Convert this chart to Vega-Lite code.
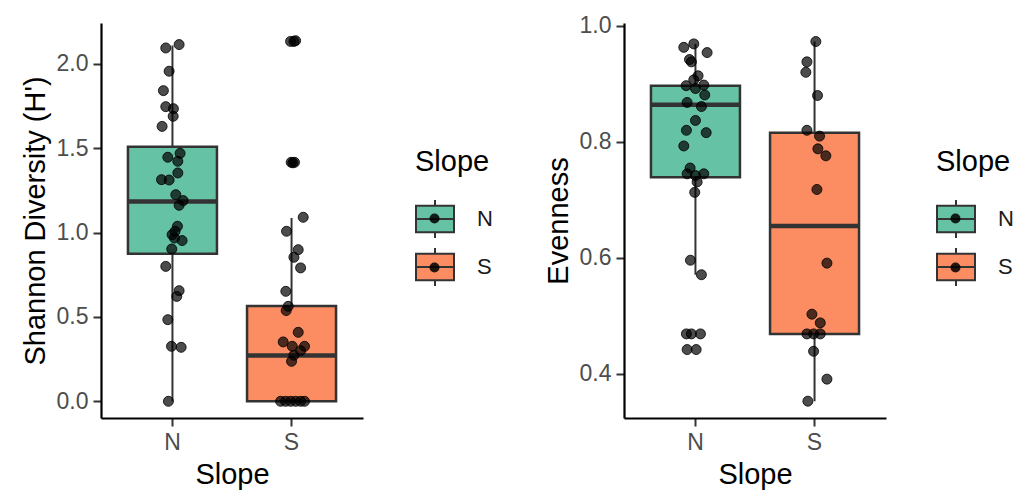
{
  "$schema": "https://vega.github.io/schema/vega-lite/v6.json",
  "padding": {"left": 21, "top": 14, "right": 5, "bottom": 5},
  "spacing": 51,
  "datasets": {
    "shBox": [
      {"slope": "N", "lower": 0.0, "q1": 0.875, "median": 1.185, "q3": 1.51, "upper": 2.11},
      {"slope": "S", "lower": 0.0, "q1": 0.0, "median": 0.272, "q3": 0.565, "upper": 1.087}
    ],
    "evBox": [
      {"slope": "N", "lower": 0.571, "q1": 0.739, "median": 0.864, "q3": 0.897, "upper": 0.969},
      {"slope": "S", "lower": 0.353, "q1": 0.469, "median": 0.655, "q3": 0.816, "upper": 0.973}
    ],
    "shPts": [
      {"slope": "N", "jitter": -0.056, "value": 2.095},
      {"slope": "N", "jitter": 0.056, "value": 2.115},
      {"slope": "N", "jitter": -0.028, "value": 1.957},
      {"slope": "N", "jitter": -0.076, "value": 1.842},
      {"slope": "N", "jitter": -0.056, "value": 1.747},
      {"slope": "N", "jitter": 0.008, "value": 1.735},
      {"slope": "N", "jitter": 0.006, "value": 1.69},
      {"slope": "N", "jitter": -0.087, "value": 1.63},
      {"slope": "N", "jitter": 0.064, "value": 1.47},
      {"slope": "N", "jitter": -0.039, "value": 1.447},
      {"slope": "N", "jitter": 0.045, "value": 1.423},
      {"slope": "N", "jitter": 0.045, "value": 1.354},
      {"slope": "N", "jitter": -0.092, "value": 1.314},
      {"slope": "N", "jitter": -0.028, "value": 1.312},
      {"slope": "N", "jitter": 0.028, "value": 1.225},
      {"slope": "N", "jitter": 0.09, "value": 1.19},
      {"slope": "N", "jitter": 0.056, "value": 1.162},
      {"slope": "N", "jitter": 0.042, "value": 1.038},
      {"slope": "N", "jitter": 0.022, "value": 1.008},
      {"slope": "N", "jitter": -0.003, "value": 0.988},
      {"slope": "N", "jitter": 0.017, "value": 0.968},
      {"slope": "N", "jitter": 0.081, "value": 0.953},
      {"slope": "N", "jitter": -0.006, "value": 0.903},
      {"slope": "N", "jitter": -0.056, "value": 0.8},
      {"slope": "N", "jitter": 0.056, "value": 0.656},
      {"slope": "N", "jitter": 0.036, "value": 0.622},
      {"slope": "N", "jitter": -0.039, "value": 0.484},
      {"slope": "N", "jitter": -0.008, "value": 0.326},
      {"slope": "N", "jitter": 0.073, "value": 0.32},
      {"slope": "N", "jitter": -0.034, "value": 0.0},
      {"slope": "S", "jitter": -0.008, "value": 2.134},
      {"slope": "S", "jitter": 0.02, "value": 2.134},
      {"slope": "S", "jitter": 0.034, "value": 2.138},
      {"slope": "S", "jitter": -0.003, "value": 1.417},
      {"slope": "S", "jitter": 0.025, "value": 1.417},
      {"slope": "S", "jitter": 0.011, "value": 1.414},
      {"slope": "S", "jitter": 0.098, "value": 1.091},
      {"slope": "S", "jitter": -0.042, "value": 1.008},
      {"slope": "S", "jitter": 0.056, "value": 0.899},
      {"slope": "S", "jitter": 0.02, "value": 0.854},
      {"slope": "S", "jitter": 0.076, "value": 0.791},
      {"slope": "S", "jitter": -0.048, "value": 0.652},
      {"slope": "S", "jitter": -0.028, "value": 0.563},
      {"slope": "S", "jitter": -0.045, "value": 0.538},
      {"slope": "S", "jitter": 0.056, "value": 0.409},
      {"slope": "S", "jitter": -0.07, "value": 0.352},
      {"slope": "S", "jitter": 0.006, "value": 0.326},
      {"slope": "S", "jitter": 0.109, "value": 0.326},
      {"slope": "S", "jitter": 0.076, "value": 0.3},
      {"slope": "S", "jitter": 0.02, "value": 0.273},
      {"slope": "S", "jitter": 0.0, "value": 0.237},
      {"slope": "S", "jitter": -0.092, "value": 0.0},
      {"slope": "S", "jitter": -0.05, "value": 0.0},
      {"slope": "S", "jitter": -0.008, "value": 0.0},
      {"slope": "S", "jitter": 0.034, "value": 0.0},
      {"slope": "S", "jitter": 0.076, "value": 0.0},
      {"slope": "S", "jitter": 0.109, "value": 0.0}
    ],
    "evPts": [
      {"slope": "N", "jitter": -0.098, "value": 0.963},
      {"slope": "N", "jitter": -0.014, "value": 0.969},
      {"slope": "N", "jitter": 0.098, "value": 0.954},
      {"slope": "N", "jitter": -0.05, "value": 0.942},
      {"slope": "N", "jitter": -0.034, "value": 0.938},
      {"slope": "N", "jitter": 0.022, "value": 0.914},
      {"slope": "N", "jitter": -0.014, "value": 0.907},
      {"slope": "N", "jitter": -0.078, "value": 0.897},
      {"slope": "N", "jitter": 0.07, "value": 0.898},
      {"slope": "N", "jitter": 0.0, "value": 0.892},
      {"slope": "N", "jitter": 0.078, "value": 0.881},
      {"slope": "N", "jitter": -0.07, "value": 0.868},
      {"slope": "N", "jitter": 0.05, "value": 0.861},
      {"slope": "N", "jitter": 0.0, "value": 0.837},
      {"slope": "N", "jitter": -0.076, "value": 0.82},
      {"slope": "N", "jitter": 0.09, "value": 0.816},
      {"slope": "N", "jitter": -0.098, "value": 0.793},
      {"slope": "N", "jitter": -0.045, "value": 0.755},
      {"slope": "N", "jitter": -0.07, "value": 0.745},
      {"slope": "N", "jitter": 0.07, "value": 0.745},
      {"slope": "N", "jitter": 0.0, "value": 0.742},
      {"slope": "N", "jitter": 0.014, "value": 0.731},
      {"slope": "N", "jitter": -0.006, "value": 0.713},
      {"slope": "N", "jitter": -0.042, "value": 0.596},
      {"slope": "N", "jitter": 0.05, "value": 0.571},
      {"slope": "N", "jitter": -0.076, "value": 0.469},
      {"slope": "N", "jitter": -0.034, "value": 0.469},
      {"slope": "N", "jitter": 0.042, "value": 0.469},
      {"slope": "N", "jitter": -0.07, "value": 0.442},
      {"slope": "N", "jitter": 0.006, "value": 0.442},
      {"slope": "S", "jitter": 0.011, "value": 0.973},
      {"slope": "S", "jitter": -0.064, "value": 0.938},
      {"slope": "S", "jitter": -0.073, "value": 0.92},
      {"slope": "S", "jitter": 0.025, "value": 0.88},
      {"slope": "S", "jitter": -0.064, "value": 0.82},
      {"slope": "S", "jitter": 0.042, "value": 0.81},
      {"slope": "S", "jitter": 0.028, "value": 0.788},
      {"slope": "S", "jitter": 0.095, "value": 0.776},
      {"slope": "S", "jitter": 0.02, "value": 0.718},
      {"slope": "S", "jitter": 0.104, "value": 0.591},
      {"slope": "S", "jitter": -0.022, "value": 0.503},
      {"slope": "S", "jitter": 0.048, "value": 0.488},
      {"slope": "S", "jitter": -0.064, "value": 0.469},
      {"slope": "S", "jitter": -0.008, "value": 0.469},
      {"slope": "S", "jitter": 0.048, "value": 0.469},
      {"slope": "S", "jitter": -0.008, "value": 0.439},
      {"slope": "S", "jitter": 0.104, "value": 0.391},
      {"slope": "S", "jitter": -0.056, "value": 0.353}
    ]
  },
  "hconcat": [
    {
      "width": 262,
      "height": 395,
      "layer": [
        {
          "data": {"name": "shBox"},
          "mark": {"type": "rule", "color": "#333333", "strokeWidth": 2},
          "encoding": {
            "x": {"field": "slope", "type": "nominal", "scale": {"paddingInner": 0, "paddingOuter": 0.1}, "axis": {"title": "Slope", "labelAngle": 0}},
            "y": {"field": "lower", "type": "quantitative", "scale": {"domain": [-0.099, 2.243], "nice": false, "zero": false}, "axis": {"title": "Shannon Diversity (H')", "values": [0, 0.5, 1, 1.5, 2], "format": ".1f"}},
            "y2": {"field": "upper"}
          }
        },
        {
          "data": {"name": "shBox"},
          "mark": {"type": "bar", "width": 89, "stroke": "#333333", "strokeWidth": 2.5},
          "encoding": {
            "x": {"field": "slope", "type": "nominal"},
            "y": {"field": "q1", "type": "quantitative"},
            "y2": {"field": "q3"},
            "color": {
              "field": "slope", "type": "nominal",
              "scale": {"domain": ["N", "S"], "range": ["#66c2a5", "#fc8d62"]},
              "legend": {"title": "Slope", "orient": "none", "legendX": 314, "legendY": 125}
            }
          }
        },
        {
          "data": {"name": "shBox"},
          "mark": {"type": "tick", "color": "#333333", "size": 89, "thickness": 4.5, "opacity": 1},
          "encoding": {
            "x": {"field": "slope", "type": "nominal"},
            "y": {"field": "median", "type": "quantitative"}
          }
        },
        {
          "data": {"name": "shPts"},
          "mark": {"type": "point", "filled": true, "fill": "black", "fillOpacity": 0.7, "stroke": "black", "strokeOpacity": 0.8, "strokeWidth": 1, "size": 100},
          "encoding": {
            "x": {"field": "slope", "type": "nominal"},
            "xOffset": {"field": "jitter", "type": "quantitative", "scale": {"domain": [-0.5, 0.5], "range": [0, 119.09]}},
            "y": {"field": "value", "type": "quantitative"},
            "shape": {
              "field": "slope", "type": "nominal",
              "scale": {"range": ["circle", "circle"]},
              "legend": {"title": null, "orient": "none", "legendX": 328, "legendY": 190, "labelExpr": "''", "labelFontSize": 1, "labelOffset": 0, "symbolSize": 100, "symbolFillColor": "black", "symbolStrokeColor": "black", "symbolStrokeWidth": 1, "symbolOpacity": 0.85, "rowPadding": 34}
            }
          }
        }
      ]
    },
    {
      "width": 262,
      "height": 395,
      "layer": [
        {
          "data": {"name": "evBox"},
          "mark": {"type": "rule", "color": "#333333", "strokeWidth": 2},
          "encoding": {
            "x": {"field": "slope", "type": "nominal", "scale": {"paddingInner": 0, "paddingOuter": 0.1}, "axis": {"title": "Slope", "labelAngle": 0}},
            "y": {"field": "lower", "type": "quantitative", "scale": {"domain": [0.324, 1.005], "nice": false, "zero": false}, "axis": {"title": "Evenness", "values": [0.4, 0.6, 0.8, 1.0], "format": ".1f"}},
            "y2": {"field": "upper"}
          }
        },
        {
          "data": {"name": "evBox"},
          "mark": {"type": "bar", "width": 89, "stroke": "#333333", "strokeWidth": 2.5},
          "encoding": {
            "x": {"field": "slope", "type": "nominal"},
            "y": {"field": "q1", "type": "quantitative"},
            "y2": {"field": "q3"},
            "color": {
              "field": "slope", "type": "nominal",
              "scale": {"domain": ["N", "S"], "range": ["#66c2a5", "#fc8d62"]},
              "legend": {"title": "Slope", "orient": "none", "legendX": 312, "legendY": 125}
            }
          }
        },
        {
          "data": {"name": "evBox"},
          "mark": {"type": "tick", "color": "#333333", "size": 89, "thickness": 4.5, "opacity": 1},
          "encoding": {
            "x": {"field": "slope", "type": "nominal"},
            "y": {"field": "median", "type": "quantitative"}
          }
        },
        {
          "data": {"name": "evPts"},
          "mark": {"type": "point", "filled": true, "fill": "black", "fillOpacity": 0.7, "stroke": "black", "strokeOpacity": 0.8, "strokeWidth": 1, "size": 100},
          "encoding": {
            "x": {"field": "slope", "type": "nominal"},
            "xOffset": {"field": "jitter", "type": "quantitative", "scale": {"domain": [-0.5, 0.5], "range": [0, 119.09]}},
            "y": {"field": "value", "type": "quantitative"},
            "shape": {
              "field": "slope", "type": "nominal",
              "scale": {"range": ["circle", "circle"]},
              "legend": {"title": null, "orient": "none", "legendX": 326, "legendY": 190, "labelExpr": "''", "labelFontSize": 1, "labelOffset": 0, "symbolSize": 100, "symbolFillColor": "black", "symbolStrokeColor": "black", "symbolStrokeWidth": 1, "symbolOpacity": 0.85, "rowPadding": 34}
            }
          }
        }
      ]
    }
  ],
  "resolve": {
    "scale": {"color": "independent", "shape": "independent"},
    "legend": {"color": "independent", "shape": "independent"}
  },
  "config": {
    "view": {"stroke": null},
    "font": "Liberation Sans",
    "axis": {
      "grid": false,
      "domainColor": "black",
      "domainWidth": 2.2,
      "tickColor": "#333333",
      "tickWidth": 2,
      "tickSize": 8,
      "labelColor": "#4d4d4d",
      "labelFontSize": 23,
      "labelPadding": 5,
      "titleFontSize": 29,
      "titleFontWeight": "normal",
      "titleColor": "black",
      "titlePadding": 6
    },
    "legend": {
      "titleFontSize": 29,
      "titleFontWeight": "normal",
      "titleColor": "black",
      "titlePadding": 22,
      "labelFontSize": 22,
      "labelColor": "#1a1a1a",
      "labelOffset": 22,
      "symbolType": "M-1,-0.7H1V0.7H-1Z M-1,0H1 M0,-0.7V-1 M0,0.7V1",
      "symbolSize": 1444,
      "symbolStrokeColor": "#333333",
      "symbolStrokeWidth": 2,
      "symbolOpacity": 1,
      "rowPadding": 2
    }
  }
}
